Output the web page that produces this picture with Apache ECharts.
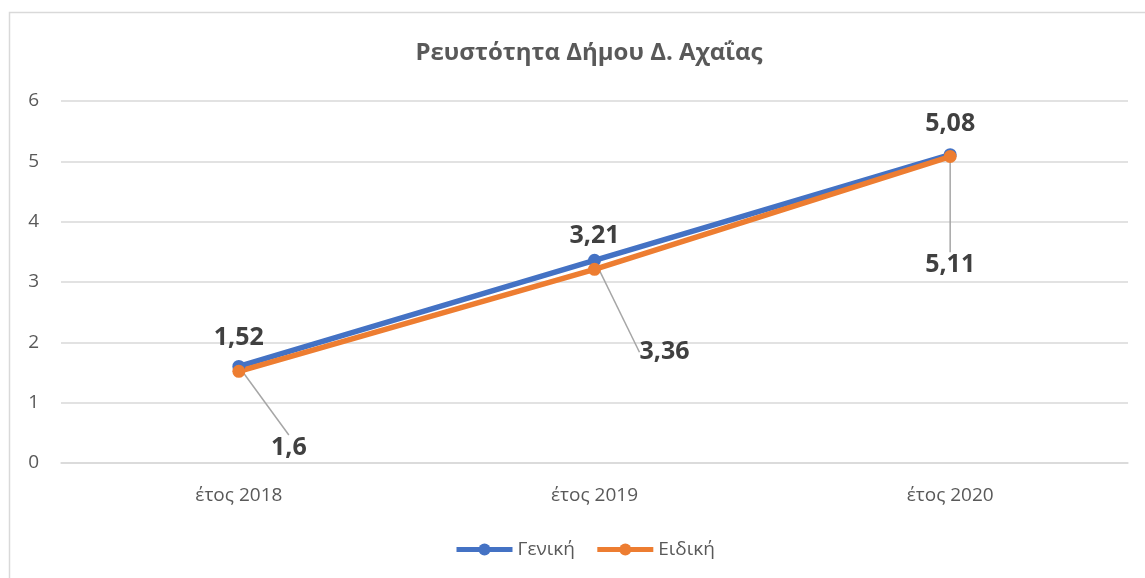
<!DOCTYPE html>
<html>
<head>
<meta charset="utf-8">
<script src="https://cdn.jsdelivr.net/npm/echarts@6/dist/echarts.min.js"></script>
<style>
  html, body { margin: 0; padding: 0; background: #fff; }
  #main { width: 1145px; height: 578px; }
</style>
</head>
<body>
<div id="main"></div>
<script>
  // data
  var years = ['έτος 2018', 'έτος 2019', 'έτος 2020'];
  var geniki = [1.6, 3.36, 5.11];
  var eidiki = [1.52, 3.21, 5.08];

  // where the Γενική labels are pushed to (px from the point)
  var genikiLabelShift = [[50, 81], [70, 92], [0, 110]];

  var fmt = function (p) { return String(p.value).replace('.', ','); };
  var font = '"Open Sans", sans-serif';

  var chart = echarts.init(document.getElementById('main'));
  chart.setOption({
    animation: false,
    textStyle: { fontFamily: font },
    color: ['#4472C4', '#ED7D31'],
    graphic: [{
      type: 'rect',
      shape: { x: 9.5, y: 12.5, width: 1200, height: 700 },
      style: { fill: 'none', stroke: '#d9d9d9', lineWidth: 1.5 },
      silent: true
    }],
    title: {
      text: 'Ρευστότητα Δήμου Δ. Αχαΐας',
      left: 584,
      textAlign: 'center',
      top: 36,
      textStyle: { fontSize: 24, fontWeight: 'bold', color: '#595959', fontFamily: font }
    },
    legend: {
      bottom: 14,
      left: 449,
      itemWidth: 56,
      itemHeight: 15,
      itemGap: 20,
      lineStyle: { width: 5 },
      textStyle: { fontSize: 19, color: '#595959', fontFamily: font },
      data: ['Γενική', 'Ειδική']
    },
    grid: { left: 61, right: 17, top: 101, bottom: 115 },
    xAxis: {
      type: 'category',
      data: years,
      axisLine: { lineStyle: { color: '#d9d9d9', width: 1.5 } },
      axisTick: { show: false },
      axisLabel: { fontSize: 19, color: '#595959', margin: 23 }
    },
    yAxis: {
      type: 'value',
      min: 0, max: 6, interval: 1,
      axisLine: { show: false },
      axisTick: { show: false },
      splitLine: { lineStyle: { color: '#d9d9d9', width: 1.5 } },
      axisLabel: { fontSize: 19, color: '#595959', margin: 22 }
    },
    series: [
      {
        name: 'Γενική',
        type: 'line',
        data: geniki,
        symbol: 'circle',
        symbolSize: 13,
        lineStyle: { width: 5.5 },
        label: {
          show: true,
          position: 'inside',
          formatter: fmt,
          fontSize: 25,
          fontWeight: 'bold',
          color: '#404040'
        },
        labelLine: { show: true, lineStyle: { color: '#a6a6a6', width: 1.5 } },
        labelLayout: function (p) {
          var s = genikiLabelShift[p.dataIndex];
          return { dx: s[0], dy: s[1] };
        }
      },
      {
        name: 'Ειδική',
        type: 'line',
        data: eidiki,
        symbol: 'circle',
        symbolSize: 13,
        lineStyle: { width: 5.5 },
        label: {
          show: true,
          position: 'top',
          distance: 14,
          formatter: fmt,
          fontSize: 25,
          fontWeight: 'bold',
          color: '#404040'
        }
      }
    ]
  });
</script>
</body>
</html>
